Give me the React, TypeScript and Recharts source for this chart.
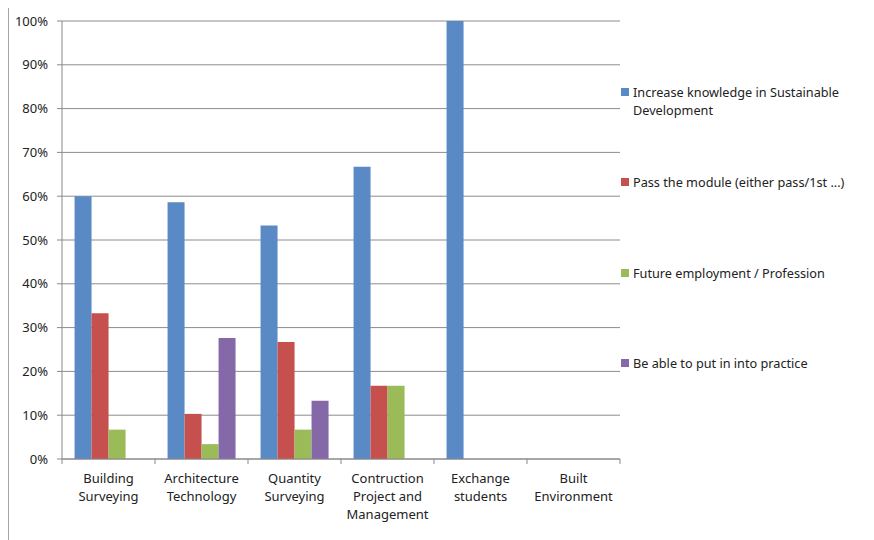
import React from "react";
import { BarChart, Bar, XAxis, YAxis, CartesianGrid } from "recharts";

const categories = [
  "Building Surveying",
  "Architecture Technology",
  "Quantity Surveying",
  "Contruction Project and Management",
  "Exchange students",
  "Built Environment",
];
const categoryLines = [
  ["Building", "Surveying"],
  ["Architecture", "Technology"],
  ["Quantity", "Surveying"],
  ["Contruction", "Project and", "Management"],
  ["Exchange", "students"],
  ["Built", "Environment"],
];
const seriesNames = [
  "Increase knowledge in Sustainable Development",
  "Pass the module (either pass/1st ...)",
  "Future employment / Profession",
  "Be able to put in into practice",
];
const knowledge = [0.6, 0.586, 0.533, 0.667, 1.0, 0];
const passModule = [0.333, 0.103, 0.267, 0.167, 0, 0];
const employment = [0.067, 0.034, 0.067, 0.167, 0, 0];
const practice = [0, 0.276, 0.133, 0, 0, 0];
const yTicks = [0, 0.1, 0.2, 0.3, 0.4, 0.5, 0.6, 0.7, 0.8, 0.9, 1.0];

const colors = ["#5A8AC6", "#C6504D", "#9BBB59", "#8468A8"];
const keys = ["s0", "s1", "s2", "s3"];

const data = categories.map((c, i) => ({
  name: c,
  s0: knowledge[i],
  s1: passModule[i],
  s2: employment[i],
  s3: practice[i],
}));

const FONT = "'Noto Sans', 'Open Sans', sans-serif";
const BAND = 558 / categories.length;

const XTick = (props: any) => {
  const { x, y, index } = props;
  const lines = categoryLines[index] || [];
  return (
    <g>
      <line x1={x - BAND / 2} y1={y} x2={x - BAND / 2} y2={y + 5} stroke="#898989" />
      {index === categories.length - 1 && (
        <line x1={x + BAND / 2} y1={y} x2={x + BAND / 2} y2={y + 5} stroke="#898989" />
      )}
      <text x={x} y={y + 24} textAnchor="middle" fontFamily={FONT} fontSize={13} fill="#222">
        {lines.map((l, i) => (
          <tspan key={i} x={x} dy={i === 0 ? 0 : 18}>
            {l}
          </tspan>
        ))}
      </text>
    </g>
  );
};

export default function App() {
  return (
    <div
      style={{
        position: "relative",
        marginTop: -2,
        width: 866,
        height: 534,
        borderTop: "1px solid #a6a6a6",
        borderLeft: "1px solid #a6a6a6",
        fontFamily: FONT,
      }}
    >
      <BarChart
        width={866}
        height={534}
        data={data}
        margin={{ top: 14, right: 255, left: 0, bottom: 0 }}
        barCategoryGap="13.5%"
        barGap={0}
      >
        <CartesianGrid vertical={false} stroke="#8c8c8c" />
        <XAxis
          dataKey="name"
          height={82}
          axisLine={{ stroke: "#898989" }}
          tickLine={false}
          tickSize={0}
          tickMargin={0}
          tick={<XTick />}
          interval={0}
        />
        <YAxis
          width={53}
          domain={[0, 1]}
          ticks={yTicks}
          interval={0}
          tickFormatter={(v: number) => `${Math.round(v * 100)}%`}
          axisLine={{ stroke: "#898989" }}
          tickLine={{ stroke: "#898989" }}
          tickSize={5}
          tickMargin={9}
          tick={{ fontFamily: FONT, fontSize: 13, fill: "#222" }}
        />
        {keys.map((k, i) => (
          <Bar key={k} dataKey={k} name={seriesNames[i]} fill={colors[i]} isAnimationActive={false} />
        ))}
      </BarChart>
      <div style={{ position: "absolute", left: 612, top: 0 }}>
        {seriesNames.map((n, i) => (
          <div
            key={n}
            style={{
              position: "absolute",
              left: 0,
              top: 76 + i * 90.3,
              width: 245,
              display: "flex",
              alignItems: "flex-start",
              fontSize: 12.7,
              lineHeight: "18px",
              color: "#222",
            }}
          >
            <div
              style={{
                width: 8,
                height: 8,
                background: colors[i],
                marginTop: 5,
                marginRight: 4,
                flex: "0 0 auto",
              }}
            />
            <div style={{ width: 228 }}>{n}</div>
          </div>
        ))}
      </div>
    </div>
  );
}
